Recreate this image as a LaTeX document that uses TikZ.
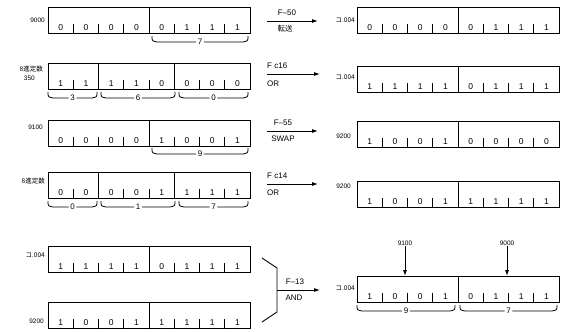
\documentclass[tikz,border=0pt]{standalone}
\usepackage{fontspec}
\setmainfont{Liberation Sans}
\newfontfamily\jp{Noto Sans CJK JP}
\usetikzlibrary{arrows.meta,calc}
\tikzset{
  reg/.style={draw, line width=1.2pt, minimum width=202pt, minimum height=26pt, inner sep=0pt, anchor=north west},
  bit/.style={font=\fontsize{8.5}{9}\selectfont, inner sep=0pt},
  lbl/.style={font=\fontsize{6.5}{7}\selectfont, inner sep=0pt},
  jlbl/.style={font=\jp\fontsize{6.5}{7}\selectfont, inner sep=0pt},
  op/.style={font=\fontsize{8}{9}\selectfont, inner sep=0pt},
  jop/.style={font=\jp\fontsize{7.5}{8}\selectfont, inner sep=0pt},
  divline/.style={line width=1pt},
  tickline/.style={line width=0.8pt},
  brc/.style={line width=0.8pt},
  brl/.style={font=\fontsize{8}{9}\selectfont, inner sep=1.5pt},
  arr/.style={-{Latex[length=6pt,width=4pt]}, line width=0.9pt},
}
\newcommand\regbox[5]{%
  \node[reg] (#1) at (#2,#3) {};
  \foreach \b [count=\i] in {#4}{
    \node[bit] (#1-b\i) at ($(#1.south west)+({(\i-0.5)*25.25},-7)$) {\b};
  }
  \foreach \i in {1,...,7}{\draw[tickline] ($(#1.south west)+(\i*25.25,0)$) -- ++(0,-10);}
  \foreach \i in {#5}{\draw[divline] ($(#1.south west)+(\i*25.25,0)$) -- ($(#1.north west)+(\i*25.25,0)$);}
}
\newcommand\ubrace[5]{%
  \node[brl] (#1) at ({(#2+#3)/2},#4+6) {#5};
  \draw[brc] (#2,#4) .. controls (#2,#4+5) .. (#2+5,#4+6) -- (#1.west);
  \draw[brc] (#1.east) -- (#3-5,#4+6) .. controls (#3,#4+5) .. (#3,#4);
}
\begin{document}
\begin{tikzpicture}[x=1pt,y=-1pt]
\useasboundingbox (0,0) rectangle (566,332);
% Row 1
\regbox{L1}{48}{7}{0,0,0,0,0,1,1,1}{4}
\node[lbl,anchor=east] (l1) at (45,20) {9000};
\ubrace{b1}{152}{248}{36}{7}
\regbox{R1}{357}{7}{0,0,0,0,0,1,1,1}{4}
\node[jlbl,anchor=east] (r1) at (355,20) {コ.004};
\coordinate (a1s) at (267,21); \coordinate (a1e) at (318,21);
\draw[arr] (a1s) -- (a1e);
\node[op] (o1t) at (287,13) {F–50};
\node[jop] (o1b) at (285,29) {転送};
% Row 2
\regbox{L2}{48}{63}{1,1,1,1,0,0,0,0}{2,5}
\node[jlbl,anchor=east] (l2a) at (43,69) {8進定数};
\node[lbl,anchor=east] (l2b) at (35,78) {350};
\ubrace{b2a}{48}{97}{92}{3}
\ubrace{b2b}{101}{175}{92}{6}
\ubrace{b2c}{179}{248}{92}{0}
\regbox{R2}{357}{66}{1,1,1,1,0,1,1,1}{4}
\node[jlbl,anchor=east] (r2) at (355,77) {コ.004};
\coordinate (a2s) at (267,74); \coordinate (a2e) at (320,74);
\draw[arr] (a2s) -- (a2e);
\node[op,anchor=west] (o2t) at (267,66) {F c16};
\node[op,anchor=west] (o2b) at (267,84) {OR};
% Row 3
\regbox{L3}{48}{120}{0,0,0,0,1,0,0,1}{4}
\node[lbl,anchor=east] (l3) at (43,127) {9100};
\ubrace{b3}{152}{248}{148}{9}
\regbox{R3}{357}{121}{1,0,0,1,0,0,0,0}{4}
\node[lbl,anchor=east] (r3) at (351,136) {9200};
\coordinate (a3s) at (267,131); \coordinate (a3e) at (318,131);
\draw[arr] (a3s) -- (a3e);
\node[op] (o3t) at (283,123) {F–55};
\node[op] (o3b) at (283,139) {SWAP};
% Row 4
\regbox{L4}{48}{172}{0,0,0,0,1,1,1,1}{2,5}
\node[jlbl,anchor=east] (l4) at (45,181) {8進定数};
\ubrace{b4a}{48}{97}{201}{0}
\ubrace{b4b}{101}{175}{201}{1}
\ubrace{b4c}{179}{248}{201}{7}
\regbox{R4}{357}{181}{1,0,0,1,1,1,1,1}{4}
\node[lbl,anchor=east] (r4) at (351,186) {9200};
\coordinate (a4s) at (267,184); \coordinate (a4e) at (318,184);
\draw[arr] (a4s) -- (a4e);
\node[op,anchor=west] (o4t) at (267,176) {F c14};
\node[op,anchor=west] (o4b) at (267,193) {OR};
% Row 5
\regbox{L5a}{48}{246}{1,1,1,1,0,1,1,1}{4}
\node[jlbl,anchor=east] (l5a) at (45,255) {コ.004};
\regbox{L5b}{48}{302}{1,0,0,1,1,1,1,1}{4}
\node[lbl,anchor=east] (l5b) at (44,321) {9200};
\draw[line width=0.9pt] (262,258) -- (277,268) -- (277,312) -- (262,322);
\coordinate (a5s) at (277,290); \coordinate (a5e) at (320,290);
\draw[arr] (a5s) -- (a5e);
\node[op] (o5t) at (295,282) {F–13};
\node[op] (o5b) at (294,298) {AND};
\regbox{R5}{357}{276}{1,0,0,1,0,1,1,1}{4}
\node[jlbl,anchor=east] (r5) at (355,288) {コ.004};
\ubrace{b5a}{357}{455}{305}{9}
\ubrace{b5b}{460}{557}{305}{7}
\node[lbl] (t9100) at (405,243) {9100};
\node[lbl] (t9000) at (507,243) {9000};
\coordinate (p1) at ($(R5.north west)+(48,0)$);
\coordinate (p2) at ($(R5.north west)+(150,0)$);
\draw[arr] (t9100.south) -- (p1);
\draw[arr] (t9000.south) -- (p2);
\end{tikzpicture}
\end{document}
